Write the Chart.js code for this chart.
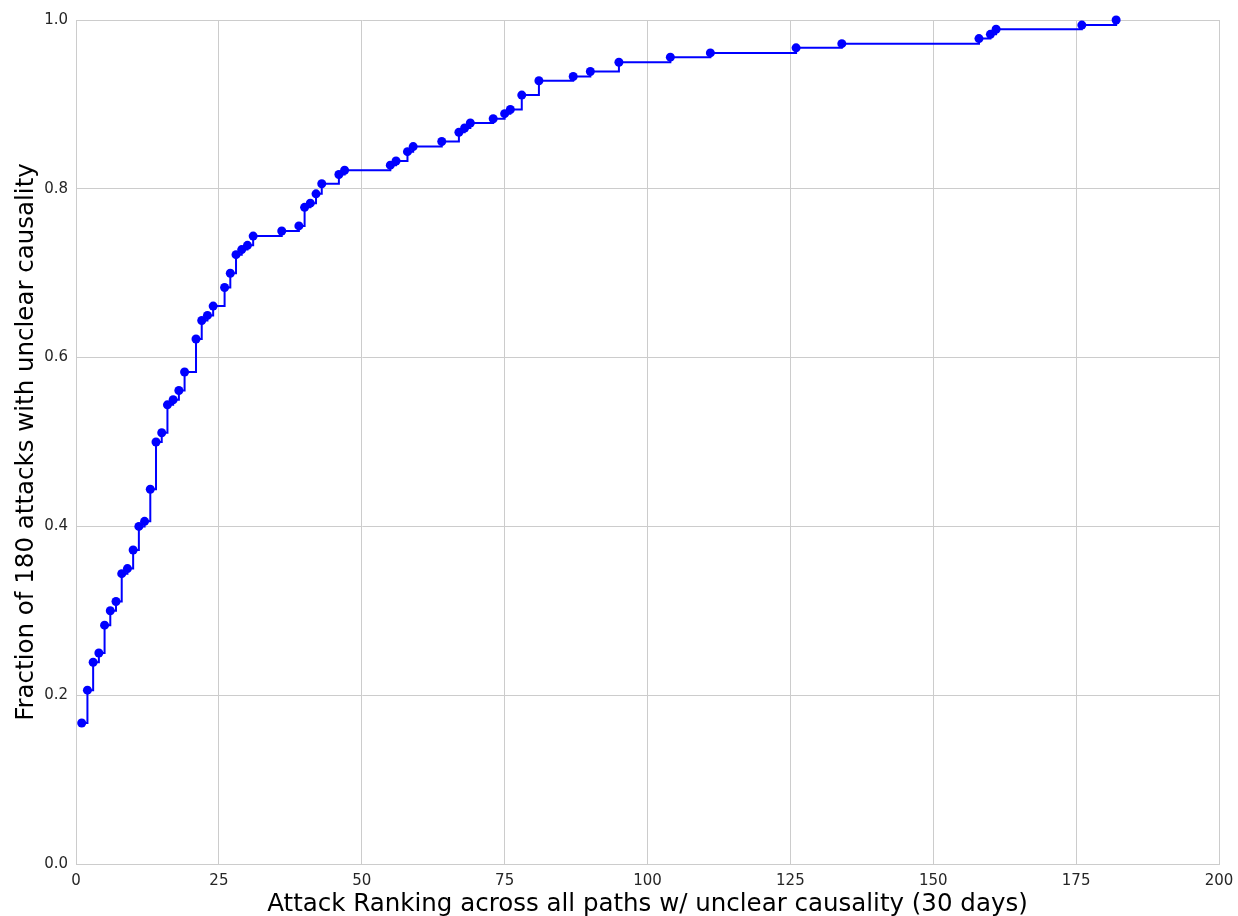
<!DOCTYPE html>
<html>
<head>
<meta charset="utf-8">
<script src="https://cdn.jsdelivr.net/npm/chart.js@4/dist/chart.umd.min.js"></script>
<style>
  html, body { margin: 0; padding: 0; background: #fff; }
  #wrap { width: 1238px; height: 916px; }
</style>
</head>
<body>
<div id="wrap"><canvas id="cdfChart" width="1238" height="916"></canvas></div>
<script>
// Attack rank (x) and cumulative fraction of the 180 attacks (y)
const ranks = [1, 2, 3, 4, 5, 6, 7, 8, 9, 10, 11, 12, 13, 14, 15, 16, 17, 18, 19, 21,
  22, 23, 24, 26, 27, 28, 29, 30, 31, 36, 39, 40, 41, 42, 43, 46, 47, 55, 56, 58,
  59, 64, 67, 68, 69, 73, 75, 76, 78, 81, 87, 90, 95, 104, 111, 126, 134, 158, 160, 161,
  176, 182];
const fractions = [0.167, 0.206, 0.239, 0.250, 0.283, 0.300, 0.311, 0.344, 0.350, 0.372,
  0.400, 0.406, 0.444, 0.500, 0.511, 0.544, 0.550, 0.561, 0.583, 0.622,
  0.644, 0.650, 0.661, 0.683, 0.700, 0.722, 0.728, 0.733, 0.744, 0.750,
  0.756, 0.778, 0.783, 0.794, 0.806, 0.817, 0.822, 0.828, 0.833, 0.844,
  0.850, 0.856, 0.867, 0.872, 0.878, 0.883, 0.889, 0.894, 0.911, 0.928,
  0.933, 0.939, 0.950, 0.956, 0.961, 0.967, 0.972, 0.978, 0.983, 0.989,
  0.994, 1.000];
const xTicks = [0, 25, 50, 75, 100, 125, 150, 175, 200];
const yTicks = [0.0, 0.2, 0.4, 0.6, 0.8, 1.0];

const gridColor = '#cccccc';
const textColor = '#262626';
const fontFamily = '"DejaVu Sans", sans-serif';

const points = ranks.map((r, i) => ({ x: r, y: fractions[i] }));

const ctx = document.getElementById('cdfChart').getContext('2d');
new Chart(ctx, {
  type: 'line',
  data: {
    datasets: [{
      data: points,
      stepped: 'before',
      borderColor: '#0000ff',
      backgroundColor: '#0000ff',
      borderWidth: 2,
      pointRadius: 4.5,
      pointBorderWidth: 0,
      pointBackgroundColor: '#0000ff',
      fill: false,
      clip: false
    }]
  },
  options: {
    responsive: false,
    animation: false,
    layout: { padding: { left: 0, right: 19, top: 20, bottom: 0 } },
    plugins: { legend: { display: false }, tooltip: { enabled: false } },
    scales: {
      x: {
        type: 'linear',
        min: 0,
        max: 200,
        afterBuildTicks: axis => { axis.ticks = xTicks.map(v => ({ value: v })); },
        afterFit: axis => {
          axis.height = 52;
          axis.paddingLeft = 0;
          axis.paddingRight = 0;
        },
        grid: { color: gridColor, lineWidth: 1, drawTicks: false },
        border: { color: gridColor, width: 1 },
        ticks: {
          color: textColor,
          padding: 8,
          maxRotation: 0,
          font: { family: fontFamily, size: 15 }
        },
        title: {
          display: true,
          text: 'Attack Ranking across all paths w/ unclear causality (30 days)',
          color: '#000',
          font: { family: fontFamily, size: 24.5 },
          padding: { top: 0, bottom: -3 }
        }
      },
      y: {
        type: 'linear',
        min: 0,
        max: 1.0,
        afterBuildTicks: axis => { axis.ticks = yTicks.map(v => ({ value: v })); },
        afterFit: axis => { axis.width = 76; },
        grid: { color: gridColor, lineWidth: 1, drawTicks: false },
        border: { color: gridColor, width: 1 },
        ticks: {
          color: textColor,
          padding: 8,
          callback: v => v.toFixed(1),
          font: { family: fontFamily, size: 15 }
        },
        title: {
          display: true,
          text: 'Fraction of 180 attacks with unclear causality',
          color: '#000',
          font: { family: fontFamily, size: 24.5 },
          padding: { top: 12, bottom: 0 }
        }
      }
    }
  }
});
</script>
</body>
</html>
